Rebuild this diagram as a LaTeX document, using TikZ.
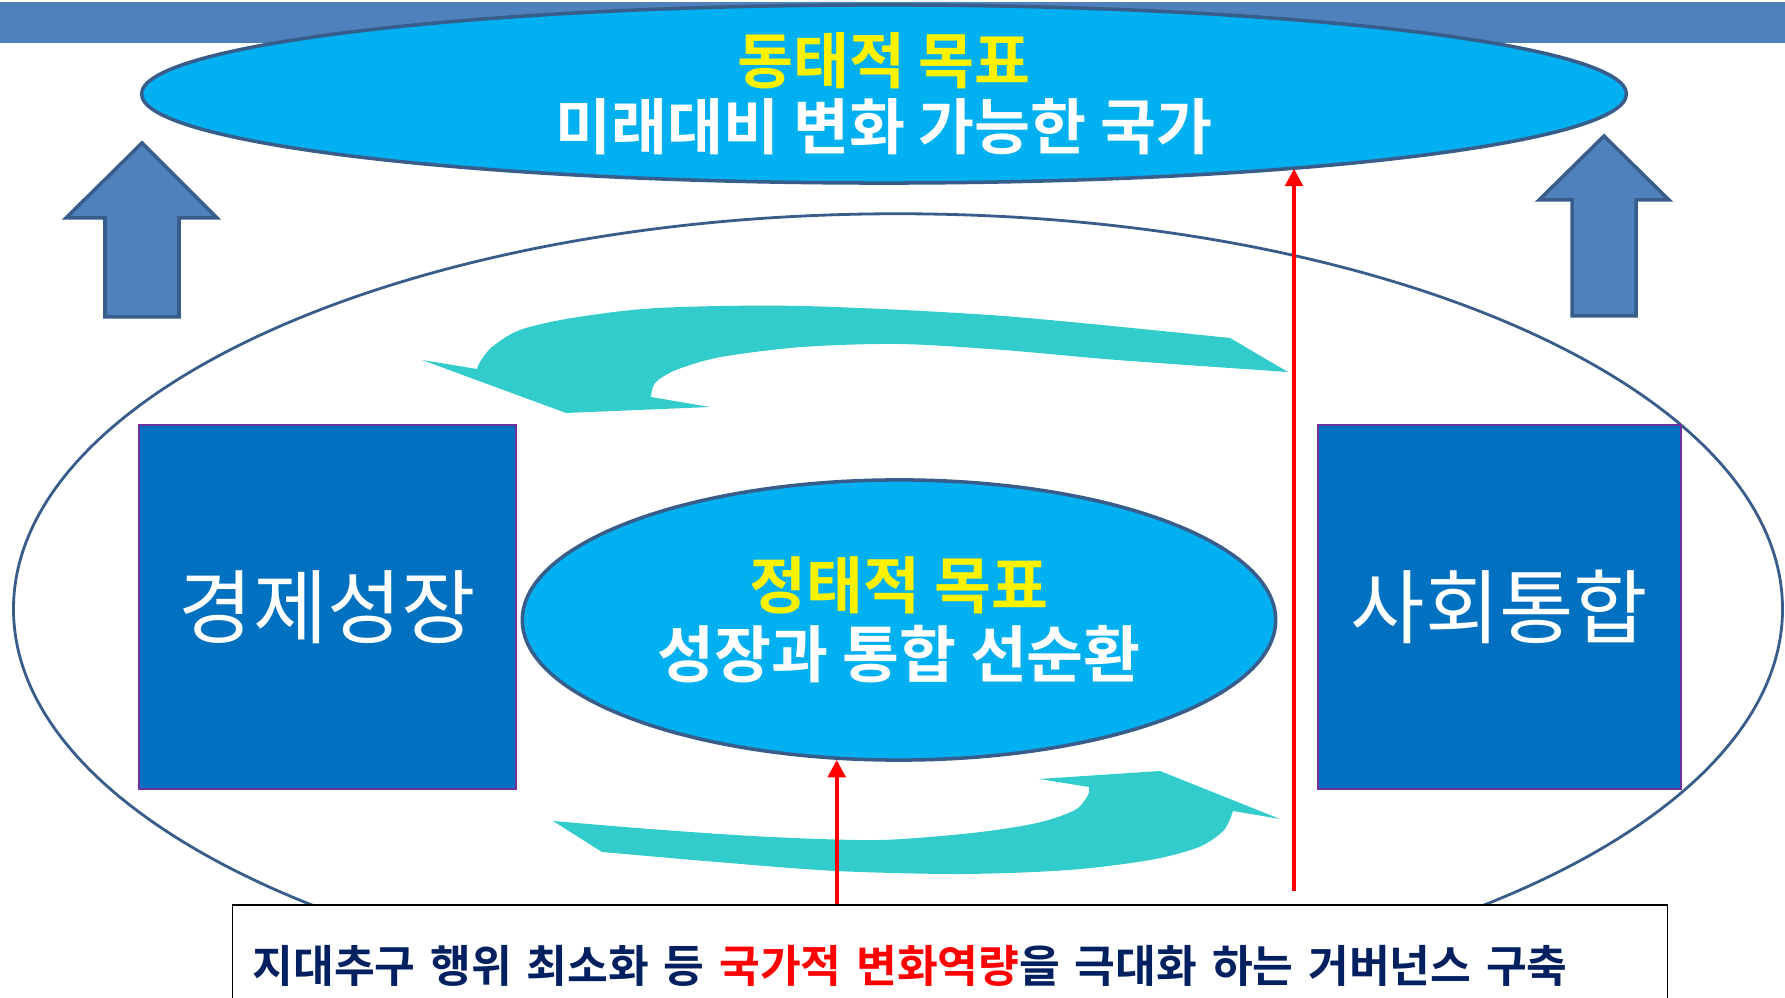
\documentclass[tikz,border=0pt]{standalone}
\usepackage{fontspec}
\setmainfont{Noto Sans CJK KR}[BoldFont={Noto Sans CJK KR Bold}]
\usetikzlibrary{shapes.geometric,arrows.meta}
\definecolor{banner}{HTML}{4F81BD}
\definecolor{rim}{HTML}{385D8A}
\definecolor{sky}{HTML}{00B0F0}
\definecolor{boxblue}{HTML}{0070C0}
\definecolor{boxrim}{HTML}{7030A0}
\definecolor{swirl}{HTML}{33CCCC}
\definecolor{govtext}{HTML}{002060}
\tikzset{goal/.style={ellipse,draw=rim,line width=1pt,fill=sky,inner xsep=0pt,inner ysep=-4pt,align=center,text=white}}
\tikzset{pillar/.style={draw=boxrim,line width=0.6pt,fill=boxblue,text=white,minimum height=3.64cm,font=\fontsize{23}{27}\selectfont}}
\tikzset{upblk/.style={draw=rim,line width=1pt,fill=banner,line join=miter}}
\tikzset{cyc/.style={fill=swirl}}
\tikzset{lift/.style={red,line width=1.2pt,-{Triangle[length=5pt,width=5pt]}}}

\begin{document}
\begin{tikzpicture}[x=0.01cm,y=-0.01cm]
  \useasboundingbox (0,0) rectangle (1785,998);
  \clip (0,0) rectangle (1785,998);
  \fill[banner] (0,2) rectangle (1785,43);

  \node[ellipse,draw=rim,line width=0.8pt,minimum width=17.68cm,minimum height=7.9cm](outer) at (898,609){};

  \draw[upblk] (142,143) -- (217,218) -- (179,218) -- (179,317) -- (105,317) -- (105,218) -- (66,218) -- cycle;
  \draw[upblk] (1604,136) -- (1669,200) -- (1636,200) -- (1636,316) -- (1572,316) -- (1572,200) -- (1539,200) -- cycle;

  \node[goal,minimum width=14.84cm,minimum height=1.78cm,font=\bfseries\fontsize{17.3}{18.8}\selectfont](dyn) at (884,94)
    {{\color{yellow}동태적 목표}\\미래대비 변화 가능한 국가};

  \node[pillar,minimum width=3.77cm](growth) at (327.5,607){경제성장};
  \node[pillar,minimum width=3.63cm](unity) at (1499.5,607){사회통합};

  \node[goal,minimum width=7.53cm,minimum height=2.8cm,font=\bfseries\fontsize{17.6}{19.6}\selectfont](stat) at (899,620)
    {{\color{yellow}정태적 목표}\\성장과 통합 선순환};

  \fill[cyc] (1230,338) -- plot[smooth] coordinates {(1230,338) (1003,316) (802,306) (658,308) (572,318) (520,330) (492,347) (480,362) (477,369)}
    -- (422,360) -- (566,413) -- (710,407) -- (651,397)
    -- plot[smooth] coordinates {(651,397) (655,383) (676,370) (721,357) (802,347) (899,344) (1003,350) (1117,360) (1288,372)} -- cycle;
  \fill[cyc] (553,821) -- plot[smooth] coordinates {(553,821) (663,830) (771,837) (879,840) (972,833) (1037,823) (1075,810) (1088,795) (1089,787)}
    -- (1039,779) -- (1160,771) -- (1280,819) -- (1233,811)
    -- plot[smooth] coordinates {(1233,811) (1224,830) (1199,847) (1150,860) (1069,870) (961,874) (836,871) (717,862) (602,852)} -- cycle;

  \node[draw=black,line width=0.5pt,fill=white,minimum width=14.34cm,minimum height=1.22cm,inner xsep=0.2cm,text width=13.94cm,align=left,
    text=govtext,font=\bfseries\fontsize{12.6}{15}\selectfont](gov) at (950,966)
    {지대추구 행위 최소화 등 {\color{red}국가적 변화역량}을 극대화 하는 거버넌스 구축};

  \coordinate (rfoot) at (1294,891);
  \draw[lift] (stat.246 |- gov.north) -- (stat.246);
  \draw[lift] (rfoot) -- (rfoot |- dyn.350);
\end{tikzpicture}
\end{document}
